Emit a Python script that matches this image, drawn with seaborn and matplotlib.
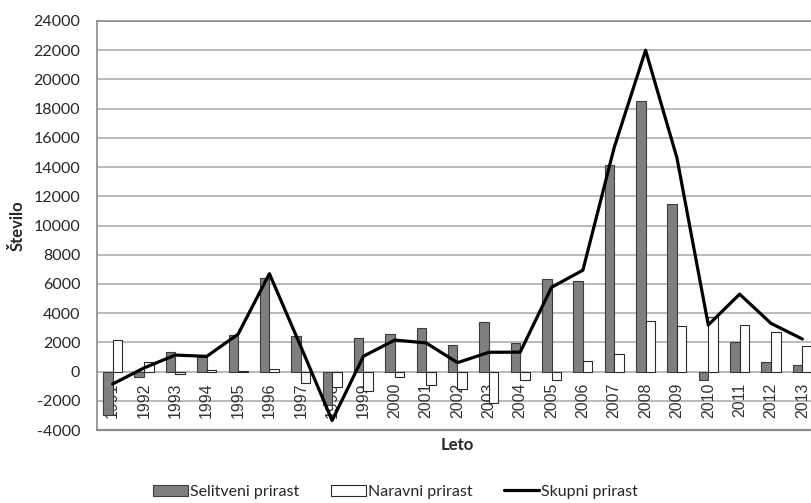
import pandas as pd
import matplotlib.pyplot as plt
import seaborn as sns
from matplotlib.patches import Patch
from matplotlib.lines import Line2D

years = [str(y) for y in range(1991, 2014)]
selitveni = [-3000, -400, 1320, 1020, 2500, 6440, 2460, -2300, 2320, 2570,
             2980, 1840, 3410, 1930, 6370, 6190, 14150, 18550, 11490, -570,
             2050, 640, 480]
naravni = [2180, 640, -200, 100, 50, 180, -780, -1080, -1300, -400,
           -950, -1160, -2160, -610, -600, 700, 1210, 3480, 3090, 3750,
           3210, 2680, 1730]
skupni = [-850, 250, 1130, 1040, 2560, 6700, 1720, -3350, 1050, 2160,
          1960, 610, 1320, 1330, 5770, 6940, 15350, 22000, 14630, 3190,
          5300, 3300, 2230]
series_names = ['Selitveni prirast', 'Naravni prirast', 'Skupni prirast']

df = pd.DataFrame({
    'Leto': years * 2,
    'Vrednost': selitveni + naravni,
    'Serija': [series_names[0]] * len(years) + [series_names[1]] * len(years),
})
df_line = pd.DataFrame({'Leto': years, 'Vrednost': skupni})

sns.set_style('white')
plt.rcParams['font.family'] = ['Lato', 'DejaVu Sans']
plt.rcParams['axes.unicode_minus'] = False

fig = plt.figure(figsize=(8.12, 5.03), dpi=100)
ax = fig.add_axes([97 / 812, 73 / 503, 721 / 812, 409 / 503])

grid_col = '#b4b4b4'
ax.set_ylim(-4000, 24000)
ax.set_yticks(range(-4000, 24001, 2000))
for v in range(-2000, 24001, 2000):
    ax.axhline(v, color=grid_col, lw=1.3, zorder=0)

sns.barplot(data=df, x='Leto', y='Vrednost', hue='Serija',
            palette=['#7f7f7f', 'white'], width=0.61, gap=0,
            saturation=1, ax=ax, legend=False, zorder=2)
for bar in ax.containers[0]:
    bar.set_edgecolor('#3c3c3c')
    bar.set_linewidth(0.8)
for bar in ax.containers[1]:
    bar.set_edgecolor('#2a2a2a')
    bar.set_linewidth(0.8)

sns.lineplot(data=df_line, x='Leto', y='Vrednost', color='black',
             lw=2.3, ax=ax, zorder=3, sort=False)

ax.set_xlim(-0.5, len(years) - 0.5)

# x axis crosses at zero like in the spreadsheet chart
ax.spines['bottom'].set_position(('data', 0))
ax.spines['bottom'].set_visible(False)
ax.spines['right'].set_visible(False)
for s in ['left', 'top']:
    ax.spines[s].set_color('#8a8a8a')
    ax.spines[s].set_linewidth(1.2)
ax.axhline(-4000, color='#8a8a8a', lw=1.6, clip_on=False, zorder=4)

ax.tick_params(axis='x', length=0, pad=8)
ax.tick_params(axis='y', length=0, pad=12, labelsize=11.5, labelcolor='#262626')
plt.setp(ax.get_xticklabels(), rotation=90, fontsize=11.5,
         family=['Liberation Sans', 'DejaVu Sans'], color='#333333')

ax.set_xlabel('Leto', fontsize=12, fontweight='bold', color='#262626')
ax.xaxis.set_label_coords(0.5, -0.018)
ax.set_ylabel('Število', fontsize=12, fontweight='bold', color='#262626',
              labelpad=6)

handles = [
    Patch(facecolor='#7f7f7f', edgecolor='#3c3c3c', lw=0.8),
    Patch(facecolor='white', edgecolor='#2a2a2a', lw=0.8),
    Line2D([], [], color='black', lw=2.3),
]
fig.legend(handles, series_names, loc='center', bbox_to_anchor=(0.487, 0.022),
           ncol=3, frameon=False, fontsize=11.5, handlelength=2.2,
           handleheight=0.75, handletextpad=0.1, columnspacing=2.0,
           labelcolor='#262626')

fig.savefig('out.png', dpi=100)
